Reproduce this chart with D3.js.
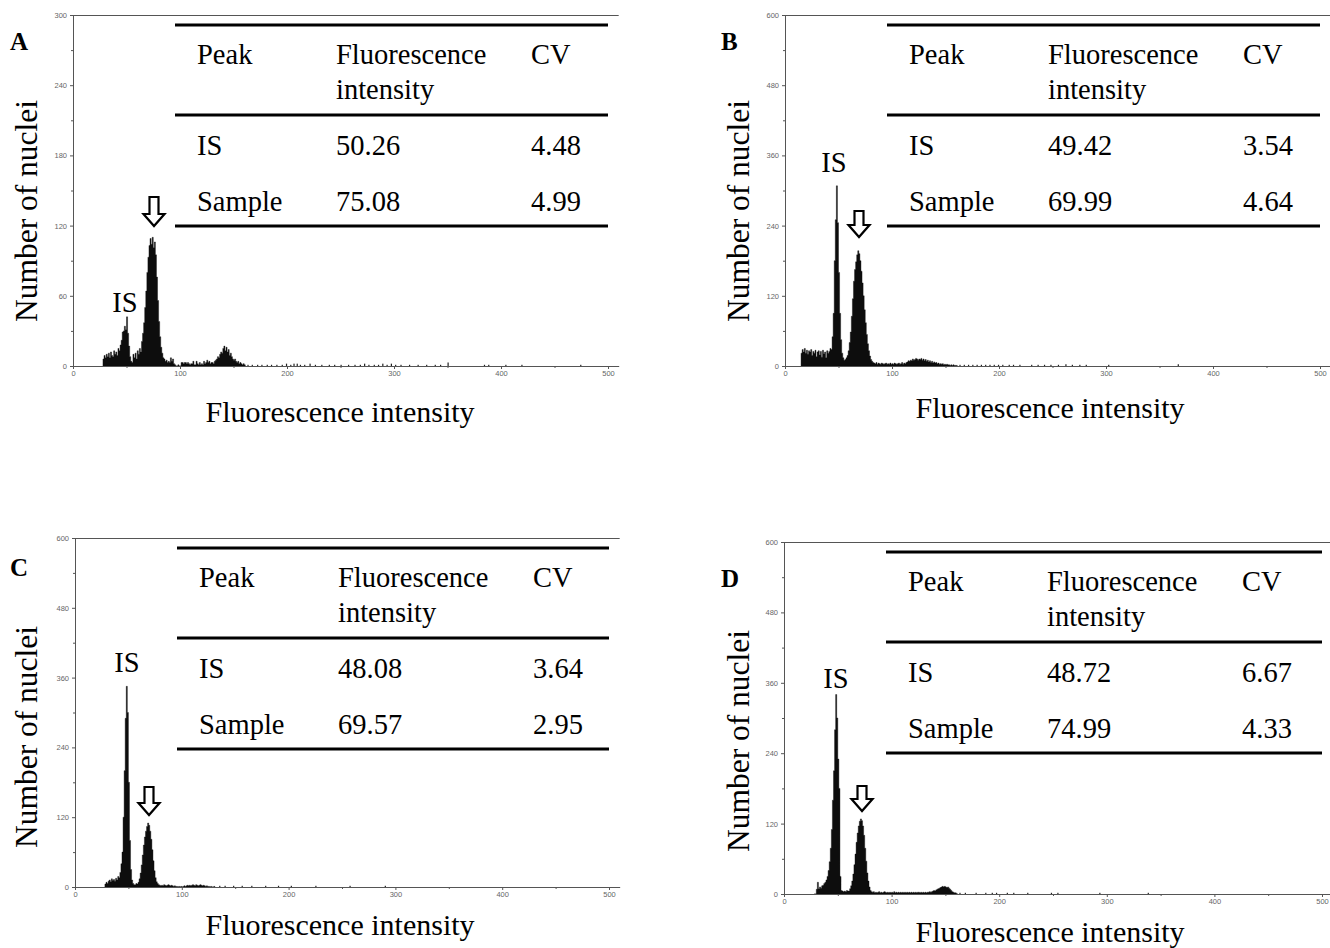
<!DOCTYPE html>
<html><head><meta charset="utf-8">
<script src="https://cdn.jsdelivr.net/npm/d3@7"></script>
<style>body{margin:0;background:#fff} svg{display:block}</style>
</head><body><svg id="c" width="1330" height="948"></svg>
<script>
// ---------- data ----------
const xTickValues = [0,100,200,300,400,500];
const xMinorTicks = [50,150,250,350,450];
const yTicksA = [0,60,120,180,240,300];
const yTicksBCD = [0,120,240,360,480,600];
const tableHeader = [["Peak"],["Fluorescence","intensity"],["CV"]];
const rowsA = [["IS","50.26","4.48"],["Sample","75.08","4.99"]];
const rowsB = [["IS","49.42","3.54"],["Sample","69.99","4.64"]];
const rowsC = [["IS","48.08","3.64"],["Sample","69.57","2.95"]];
const rowsD = [["IS","48.72","6.67"],["Sample","74.99","4.33"]];

const startA = 28;
const countsA = [6,9,7,10,8,11,7,12,9,8,
 13,10,12,9,15,13,18,22,29,30,
 34,31,42,28,17,8,4,3,10,7,
 11,6,13,10,15,12,21,28,37,50,
 64,80,93,103,109,104,110,101,106,95,
 76,56,38,25,16,11,7,6,4,5,
 3,4,3,7,4,6,2,1,0,0,
 1,0,0,3,3,2,3,3,2,3,
 2,1,2,2,4,1,1,4,2,1,
 3,1,2,1,4,2,3,5,3,4,
 2,3,3,2,4,5,6,8,7,10,
 12,11,15,17,13,16,12,14,9,11,
 8,6,5,6,4,3,4,2,3,2,
 1,2,1];
const tailA = [[163,1],[167,1],[172,1],[176,1],[181,1],[185,1],[190,1],[195,1],[199,2],[203,1],[206,2],[209,2],[212,1],[216,1],[221,2],[226,1],[232,1],[239,1],[244,1],[250,1],[257,1],[263,1],[268,1],[272,2],[276,1],[281,1],[285,1],[289,2],[293,1],[297,2],[301,1],[306,1],[314,1],[322,1],[330,1],[338,1],[343,1],[350,3],[384,1],[388,1],[404,1],[419,1],[474,1]];

const startB = 15;
const countsB = [22,28,24,30,22,27,20,26,24,28,
 18,25,22,27,16,24,26,19,25,15,
 27,21,24,14,26,22,25,30,28,50,
 90,180,250,308,245,160,90,45,22,14,
 10,11,14,18,26,40,58,85,115,145,
 165,178,190,197,192,180,162,142,120,96,
 74,54,38,26,17,11,8,6,5,4,
 6,3,5,4,3,5,4,3,4,5,
 3,4,3,5,3,4,3,5,4,3,
 4,5,3,4,6,3,5,4,6,7,
 9,8,10,9,12,10,11,13,12,10,
 12,11,13,10,12,9,11,8,10,7,
 9,6,8,5,7,5,6,4,5,3,
 4,3,4,2,3,2,3,2,2,1,
 2,1,2,1,1,1];
const tailB = [[163,2],[167,2],[171,2],[175,1],[179,2],[183,2],[187,2],[191,1],[195,2],[199,2],[203,2],[209,1],[213,2],[219,1],[230,2],[236,1],[242,2],[248,2],[255,1],[262,3],[268,2],[275,2],[281,1],[302,2],[367,3]];

const startC = 28;
const countsC = [5,8,6,10,12,9,14,11,13,10,
 15,12,18,16,25,40,60,120,200,290,
 345,300,180,80,30,12,6,4,4,6,
 5,8,14,24,38,55,72,86,96,104,
 110,106,96,82,64,45,28,16,9,6,
 4,3,2,3,2,4,3,2,3,4,
 3,2,3,2,1,2,1,1,0,1,
 0,1,0,1,2,1,2,3,2,3,
 2,3,4,3,2,4,3,2,3,4,
 3,2,3,2,1,2,1,1,0,1,
 0,0,1];
const tailC = [[135,1],[140,1],[148,1],[156,1],[165,1],[178,1],[190,1],[202,1],[225,1],[257,1],[290,1]];

const startD = 28;
const countsD = [0,0,8,20,9,12,10,14,15,18,
 20,24,30,40,55,78,110,160,210,280,
 340,300,230,180,30,6,5,4,5,4,
 6,5,5,9,14,22,34,50,68,88,
 104,116,124,128,125,116,100,78,56,36,
 22,12,6,4,3,4,2,3,2,3,
 4,2,3,2,3,4,3,2,3,2,
 3,2,3,2,4,2,3,2,3,2,
 3,2,3,2,3,2,3,2,3,2,
 3,2,3,2,3,2,3,3,2,3,
 2,3,2,3,2,3,3,4,3,4,
 5,6,5,7,8,9,10,11,12,13,
 12,13,12,11,12,10,8,6,4,3,
 2,2,1];
const tailD = [[163,1],[168,1],[178,1],[187,1],[193,1],[197,1],[207,1],[213,1],[226,1],[248,1],[254,1],[293,2],[338,1]];

// ---------- layout ----------
const panels = [
 {letter:"A", lx:10, ly:50, ox:73, x500:608, oy:15, base:366, yMax:300, yTicks:yTicksA, start:startA, counts:countsA, tail:tailA, rows:rowsA, yt:[37,211], xt:[340,422], isLab:[125,312], arrow:[154,197,226]},
 {letter:"B", lx:721, ly:50, ox:785, x500:1320, oy:15, base:366, yMax:600, yTicks:yTicksBCD, start:startB, counts:countsB, tail:tailB, rows:rowsB, yt:[749,211], xt:[1050,418], isLab:[834,172], arrow:[859,211,237]},
 {letter:"C", lx:10, ly:576, ox:75, x500:609, oy:538, base:887, yMax:600, yTicks:yTicksBCD, start:startC, counts:countsC, tail:tailC, rows:rowsC, yt:[37,737], xt:[340,935], isLab:[127,672], arrow:[149,787,815]},
 {letter:"D", lx:721, ly:587, ox:784, x500:1322, oy:542, base:894, yMax:600, yTicks:yTicksBCD, start:startD, counts:countsD, tail:tailD, rows:rowsD, yt:[749,741], xt:[1050,942], isLab:[836,688], arrow:[862,786,811]}
];

const serif = "'Liberation Serif','Times New Roman',serif";
const svg = d3.select("#c");
const axisColor = "#555";

panels.forEach(p => {
  const g = svg.append("g");
  const x = d3.scaleLinear().domain([0,500]).range([p.ox, p.x500]);
  const y = d3.scaleLinear().domain([0,p.yMax]).range([p.base, p.oy]);
  const xEnd = x(510);

  // histogram
  const data = p.counts.map((v,i)=>({ch:p.start+i, v:v}));
  data.push({ch:p.start+p.counts.length, v:0});
  const area = d3.area().x(d=>x(d.ch)).y0(p.base).y1(d=>y(d.v)).curve(d3.curveStepAfter);
  g.append("path").datum(data).attr("d", area).attr("fill","#0d0d0d")
    .attr("stroke","#0d0d0d").attr("stroke-width",0.4);
  g.selectAll("rect.tail").data(p.tail).join("rect")
    .attr("x", d=>x(d[0])).attr("width", d=>Math.max(1.2, x(d[0]+1)-x(d[0])))
    .attr("y", d=>Math.min(y(d[1]), p.base-1.2)).attr("height", d=>Math.max(1.2, p.base-y(d[1])))
    .attr("fill","#222");

  // axes
  const xa = d3.scaleLinear().domain([0,510]).range([p.ox, xEnd]);
  g.append("g").attr("transform",`translate(0,${p.base})`)
    .call(d3.axisBottom(xa).tickValues(xTickValues).tickSize(3).tickSizeOuter(0).tickPadding(2));
  g.append("g").attr("transform",`translate(0,${p.base})`)
    .call(d3.axisBottom(xa).tickValues(xMinorTicks).tickSize(2).tickSizeOuter(0).tickFormat(""))
    .select(".domain").remove();
  g.append("g").attr("transform",`translate(${p.ox},0)`)
    .call(d3.axisLeft(y).tickValues(p.yTicks).tickSize(3).tickSizeOuter(0).tickPadding(3));
  const step = p.yTicks[1]-p.yTicks[0];
  const minorY = p.yTicks.slice(0,-1).map(v=>v+step/2);
  g.append("g").attr("transform",`translate(${p.ox},0)`)
    .call(d3.axisLeft(y).tickValues(minorY).tickSize(2).tickFormat(""))
    .select(".domain").remove();
  g.selectAll(".domain, .tick line").attr("stroke", axisColor);
  g.selectAll(".tick text").attr("fill","#666").attr("font-size","7.5px").attr("font-family","'Liberation Sans',Arial,sans-serif");
  // top frame line
  g.append("line").attr("x1",p.ox).attr("x2",xEnd).attr("y1",p.oy+0.5).attr("y2",p.oy+0.5).attr("stroke",axisColor);

  // table
  const tl = p.ox + 102, tr = p.x500;
  [10,100,211].forEach(dy => {
    g.append("line").attr("x1",tl).attr("x2",tr).attr("y1",p.oy+dy).attr("y2",p.oy+dy)
      .attr("stroke","#000").attr("stroke-width",3);
  });
  const cols = [tl+22, tl+161, tl+356];
  tableHeader.forEach((lines,ci)=>{
    lines.forEach((t,li)=>{
      g.append("text").attr("x",cols[ci]).attr("y",p.oy+49+li*35).text(t)
        .attr("font-family",serif).attr("font-size","28.5px").attr("fill","#000");
    });
  });
  p.rows.forEach((r,ri)=>{
    r.forEach((t,ci)=>{
      g.append("text").attr("x",cols[ci]).attr("y",p.oy+140+ri*56).text(t)
        .attr("font-family",serif).attr("font-size","28.5px").attr("fill","#000");
    });
  });

  // labels
  g.append("text").attr("x",p.lx).attr("y",p.ly).text(p.letter)
    .attr("font-family",serif).attr("font-weight","bold").attr("font-size","25px");
  g.append("text").attr("transform",`translate(${p.yt[0]},${p.yt[1]}) rotate(-90)`)
    .attr("text-anchor","middle").text("Number of nuclei")
    .attr("font-family",serif).attr("font-size","31.5px");
  g.append("text").attr("x",p.xt[0]).attr("y",p.xt[1]).attr("text-anchor","middle")
    .text("Fluorescence intensity").attr("font-family",serif).attr("font-size","30px");
  g.append("text").attr("x",p.isLab[0]).attr("y",p.isLab[1]).attr("text-anchor","middle")
    .text("IS").attr("font-family",serif).attr("font-size","28.5px");

  // hollow arrow
  const [cx, top, bot] = p.arrow;
  const sw = 4.5, hw = 10.5, hh = 12;
  const path = d3.path();
  path.moveTo(cx-sw, top); path.lineTo(cx+sw, top); path.lineTo(cx+sw, bot-hh);
  path.lineTo(cx+hw, bot-hh); path.lineTo(cx, bot); path.lineTo(cx-hw, bot-hh);
  path.lineTo(cx-sw, bot-hh); path.closePath();
  g.append("path").attr("d", path.toString()).attr("fill","#fff").attr("stroke","#000").attr("stroke-width",2.2).attr("stroke-linejoin","miter");
});
</script>
</body></html>
